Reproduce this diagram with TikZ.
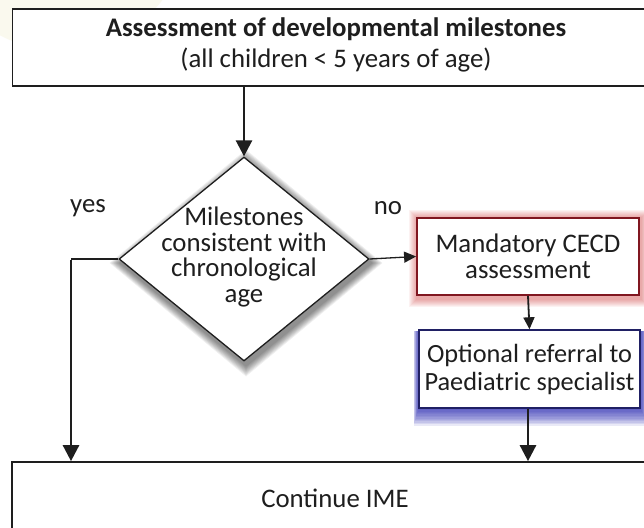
\documentclass[tikz,border=0pt]{standalone}
\usepackage{fontspec}
\setmainfont{Carlito}
\usetikzlibrary{arrows.meta,shapes.geometric,calc,backgrounds}
\definecolor{redb}{RGB}{128,22,32}
\definecolor{blueb}{RGB}{32,32,100}
\definecolor{glowred}{RGB}{205,40,40}
\definecolor{glowblue}{RGB}{45,45,180}
\definecolor{cream}{RGB}{250,249,238}
\definecolor{ink}{RGB}{30,30,30}
\begin{document}
\begin{tikzpicture}[x=1pt,y=-1pt,
  txt/.style={font=\fontsize{26.8}{27}\selectfont, align=center, text=ink},
  arr/.style={draw=ink, line width=2.6pt, -{Triangle[length=16pt,width=16pt]}},
  smallarr/.style={draw=ink, line width=1.8pt, -{Triangle[length=12pt,width=11pt]}},
  thinarr/.style={draw=ink, line width=1.3pt, -{Triangle[length=12pt,width=11pt]}},
  box/.style={draw, rectangle, fill=white, inner sep=0pt},
]
\useasboundingbox (0,0) rectangle (644,527);

\node[box, draw=ink, line width=1.7pt, minimum width=650, minimum height=77] (top) at (337.5,47.5) {};
\node[txt, inner sep=0pt, anchor=base, font=\fontsize{26.8}{27}\selectfont\bfseries] (t1) at (336,37) {Assessment of developmental milestones};
\node[txt, inner sep=0pt, anchor=base] (t2) at (336,67) {(all children < 5 years of age)};

\node[diamond, draw=ink, line width=1.3pt, fill=white, minimum width=250, minimum height=204, inner sep=0pt] (d) at (244,259) {};
\node[txt, font=\fontsize{26.8}{25.7}\selectfont, inner sep=0pt] (dt) at (244,257) {Milestones\\consistent with\\chronological\\age};

\node[txt, inner sep=0pt] (yes) at (88,208) {yes};
\node[txt, inner sep=0pt] (no) at (388,208) {no};

\node[box, txt, font=\fontsize{26.8}{26}\selectfont, draw=redb, line width=1.8pt, minimum width=222, minimum height=77] (cecd) at (528,256.5)
  {Mandatory CECD\\assessment};
\node[box, txt, font=\fontsize{26.3}{28}\selectfont, draw=blueb, line width=1.4pt, minimum width=221, minimum height=78] (blue) at (529.5,369)
  {Optional referral to\\Paediatric specialist};

\node[box, draw=ink, line width=1.7pt, minimum width=650, minimum height=100] (bot) at (337,512) {};
\node[txt, inner sep=0pt] (cont) at (335,498) {Continue IME};

\coordinate (yc) at (71,259);

\draw[arr] (top.south -| d.north) -- (d.north);
\draw[draw=ink, line width=1.3pt] (d.west) -- (yc);
\draw[arr] ([yshift=-0.6pt]yc) -- (yc |- bot.north);
\draw[thinarr] (d.east) -- (cecd.west);
\draw[smallarr] (cecd.south) -- (blue.north);
\draw[arr] (blue.south -| 528,0) -- (bot.north -| 528,0);

\begin{pgfonlayer}{background}
  \fill[white] (0,0) rectangle (644,527);
  \fill[cream] (60,-80) circle (130pt);
  \foreach \i in {1,...,9} {
    \fill[black, opacity=0.06]
      ($(d.north)+(2,4-1.2*\i)$) -- ($(d.east)+(2+1.2*\i,4)$) --
      ($(d.south)+(2,4+1.2*\i)$) -- ($(d.west)+(2-1.2*\i,4)$) -- cycle;
  }
  \foreach \i in {1,...,8} {
    \fill[glowred, opacity=0.06]
      ($(cecd.north west)+(-\i+1,-\i+1)$) rectangle ($(cecd.south east)+(\i+1.5,\i+3)$);
  }
  \foreach \i in {1,...,12} {
    \fill[glowblue, opacity=0.1]
      ($(blue.north west)+(-0.4*\i,2)$) rectangle ($(blue.south east)+(0.6*\i,1.4*\i)$);
  }
\end{pgfonlayer}
\end{tikzpicture}
\end{document}
